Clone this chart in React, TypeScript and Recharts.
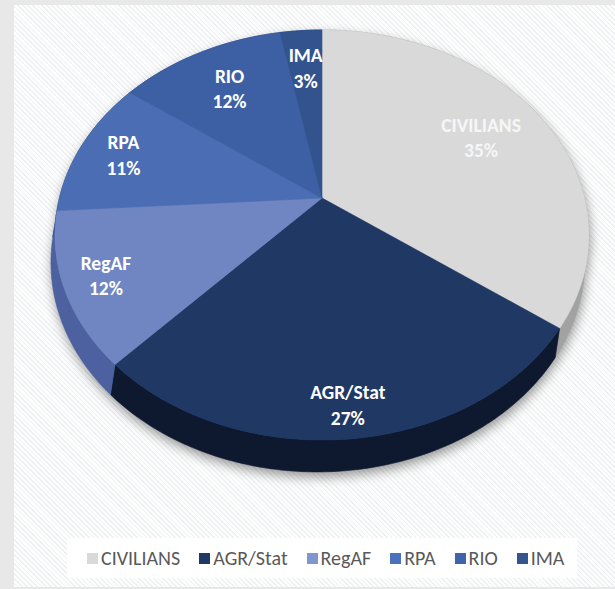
import React from 'react';
import { PieChart, Pie } from 'recharts';

// ---- data ----
const categories = ['CIVILIANS', 'AGR/Stat', 'RegAF', 'RPA', 'RIO', 'IMA'];
const shares = [35, 27, 12, 11, 12, 3];

// ---- style ----
const faceColors = ['#d9d9d9', '#1f3864', '#7086c3', '#4a6db4', '#3c60a3', '#33538f'];
const wallColors = ['#a2a2a2', '#0e182f', '#4d61a0', '#344f8d', '#2c4883', '#243c6c'];
const legendColors = ['#d9d9d9', '#203864', '#7f96d1', '#4a71bd', '#3f64ac', '#34558f'];
const labelColors = ['#f6f6f6', '#ffffff', '#ffffff', '#ffffff', '#ffffff', '#ffffff'];
const labelRadius = [0.72, 0.88, 0.85, 0.82, 0.73, 0.75];

const data = categories.map((name, i) => ({ name, value: shares[i] }));

// perspective projection of the tilted pie
const DIST = 5.545;
const SX = 1456 / 190;
const SY = 1100 / 190;
const DEPTH = 145 / 190;
const DEPTH_X = -22 / 190;

type Pt = [number, number];

function proj(cx: number, cy: number, R: number, a: number, f: number, drop: boolean): Pt {
  const rad = (a * Math.PI) / 180;
  const u = f * Math.sin(rad);
  const v = -f * Math.cos(rad);
  const s = 1 / (DIST - v);
  return [
    cx + R * SX * u * s + (drop ? R * DEPTH_X * s : 0),
    cy + R * SY * v * s + (drop ? R * DEPTH * s : 0),
  ];
}

function arc(cx: number, cy: number, R: number, a0: number, a1: number, drop: boolean): Pt[] {
  const n = Math.max(2, Math.ceil(Math.abs(a1 - a0)));
  const pts: Pt[] = [];
  for (let k = 0; k <= n; k++) pts.push(proj(cx, cy, R, a0 + ((a1 - a0) * k) / n, 1, drop));
  return pts;
}

const toPath = (pts: Pt[]) =>
  pts.map((p, i) => (i ? 'L' : 'M') + p[0].toFixed(2) + ',' + p[1].toFixed(2)).join(' ') + ' Z';

const angles = (p: any): [number, number] => [90 - p.startAngle, 90 - p.endAngle];

const renderShadow = (p: any) => {
  if (p.index !== 0) return <g key={'s' + p.index} />;
  const top = arc(p.cx, p.cy, p.outerRadius, 0, 360, false);
  const bottom = arc(p.cx, p.cy, p.outerRadius, 0, 360, true);
  return (
    <g key="shadow">
      <defs>
        <filter id="pieShadow" x="-20%" y="-20%" width="140%" height="140%">
          <feGaussianBlur stdDeviation="6" />
        </filter>
      </defs>
      <g filter="url(#pieShadow)" transform="translate(1,5)" opacity={0.4}>
        <path d={toPath(top)} fill="#000" />
        <path d={toPath(bottom)} fill="#000" />
      </g>
    </g>
  );
};

const renderWall = (p: any) => {
  const [a0, a1] = angles(p);
  const top = arc(p.cx, p.cy, p.outerRadius, a0, a1, false);
  const bottom = arc(p.cx, p.cy, p.outerRadius, a0, a1, true).reverse();
  const c = wallColors[p.index];
  return (
    <path key={'w' + p.index} d={toPath([...top, ...bottom])} fill={c} stroke={c} strokeWidth={0.6} />
  );
};

const renderFace = (p: any) => {
  const [a0, a1] = angles(p);
  const pts: Pt[] = [[p.cx, p.cy], ...arc(p.cx, p.cy, p.outerRadius, a0, a1, false)];
  const c = faceColors[p.index];
  const mid = (a0 + a1) / 2;
  const [lx, ly] = proj(p.cx, p.cy, p.outerRadius, mid, labelRadius[p.index], false);
  const pct = Math.round(p.percent * 100) + '%';
  return (
    <g key={'f' + p.index}>
      <path d={toPath(pts)} fill={c} stroke={c} strokeWidth={0.6} />
      <text
        x={lx}
        y={ly}
        textAnchor="middle"
        fill={labelColors[p.index]}
        style={{ fontFamily: 'Carlito, Lato, sans-serif', fontWeight: 700, fontSize: 19.5 }}
      >
        <tspan x={lx} dy={-5}>{p.name}</tspan>
        <tspan x={lx} dy={25.5}>{pct}</tspan>
      </text>
    </g>
  );
};

const pieCommon = {
  data,
  dataKey: 'value',
  nameKey: 'name',
  cx: 322,
  cy: 198,
  outerRadius: 190,
  startAngle: 90,
  endAngle: -270,
  fill: 'none',
  stroke: 'none',
  labelLine: false,
  isAnimationActive: false,
  legendType: 'none' as const,
};

export default function App() {
  return (
    <div
      style={{
        position: 'absolute',
        left: 0,
        top: 0,
        width: 615,
        height: 589,
        background: '#e8e8e8',
        overflow: 'hidden',
      }}
    >
      <div
        style={{
          position: 'absolute',
          left: 14,
          top: 5,
          width: 601,
          height: 582,
          background:
            'repeating-linear-gradient(45deg, #fdfdfd 0px, #fdfdfd 2.2px, #eef1f1 2.2px, #eef1f1 3.4px)',
        }}
      />
      <div style={{ position: 'absolute', left: 0, top: 0 }}>
        <PieChart width={615} height={520} margin={{ top: 0, right: 0, bottom: 0, left: 0 }}>
          <Pie {...pieCommon} label={renderShadow} />
          <Pie {...pieCommon} label={renderWall} />
          <Pie {...pieCommon} label={renderFace} />
        </PieChart>
      </div>
      <div
        style={{
          position: 'absolute',
          left: 67,
          top: 538,
          width: 510,
          height: 40,
          background: '#ffffff',
          display: 'flex',
          alignItems: 'center',
          paddingLeft: 20,
          boxSizing: 'border-box',
          fontFamily: 'Carlito, Lato, sans-serif',
          fontSize: 20,
          color: '#595959',
          whiteSpace: 'nowrap',
        }}
      >
        {categories.map((name, i) => (
          <div key={name} style={{ display: 'flex', alignItems: 'center', marginRight: 19 }}>
            <span
              style={{ display: 'inline-block', width: 11, height: 11, background: legendColors[i], marginRight: 3 }}
            />
            <span>{name}</span>
          </div>
        ))}
      </div>
    </div>
  );
}
